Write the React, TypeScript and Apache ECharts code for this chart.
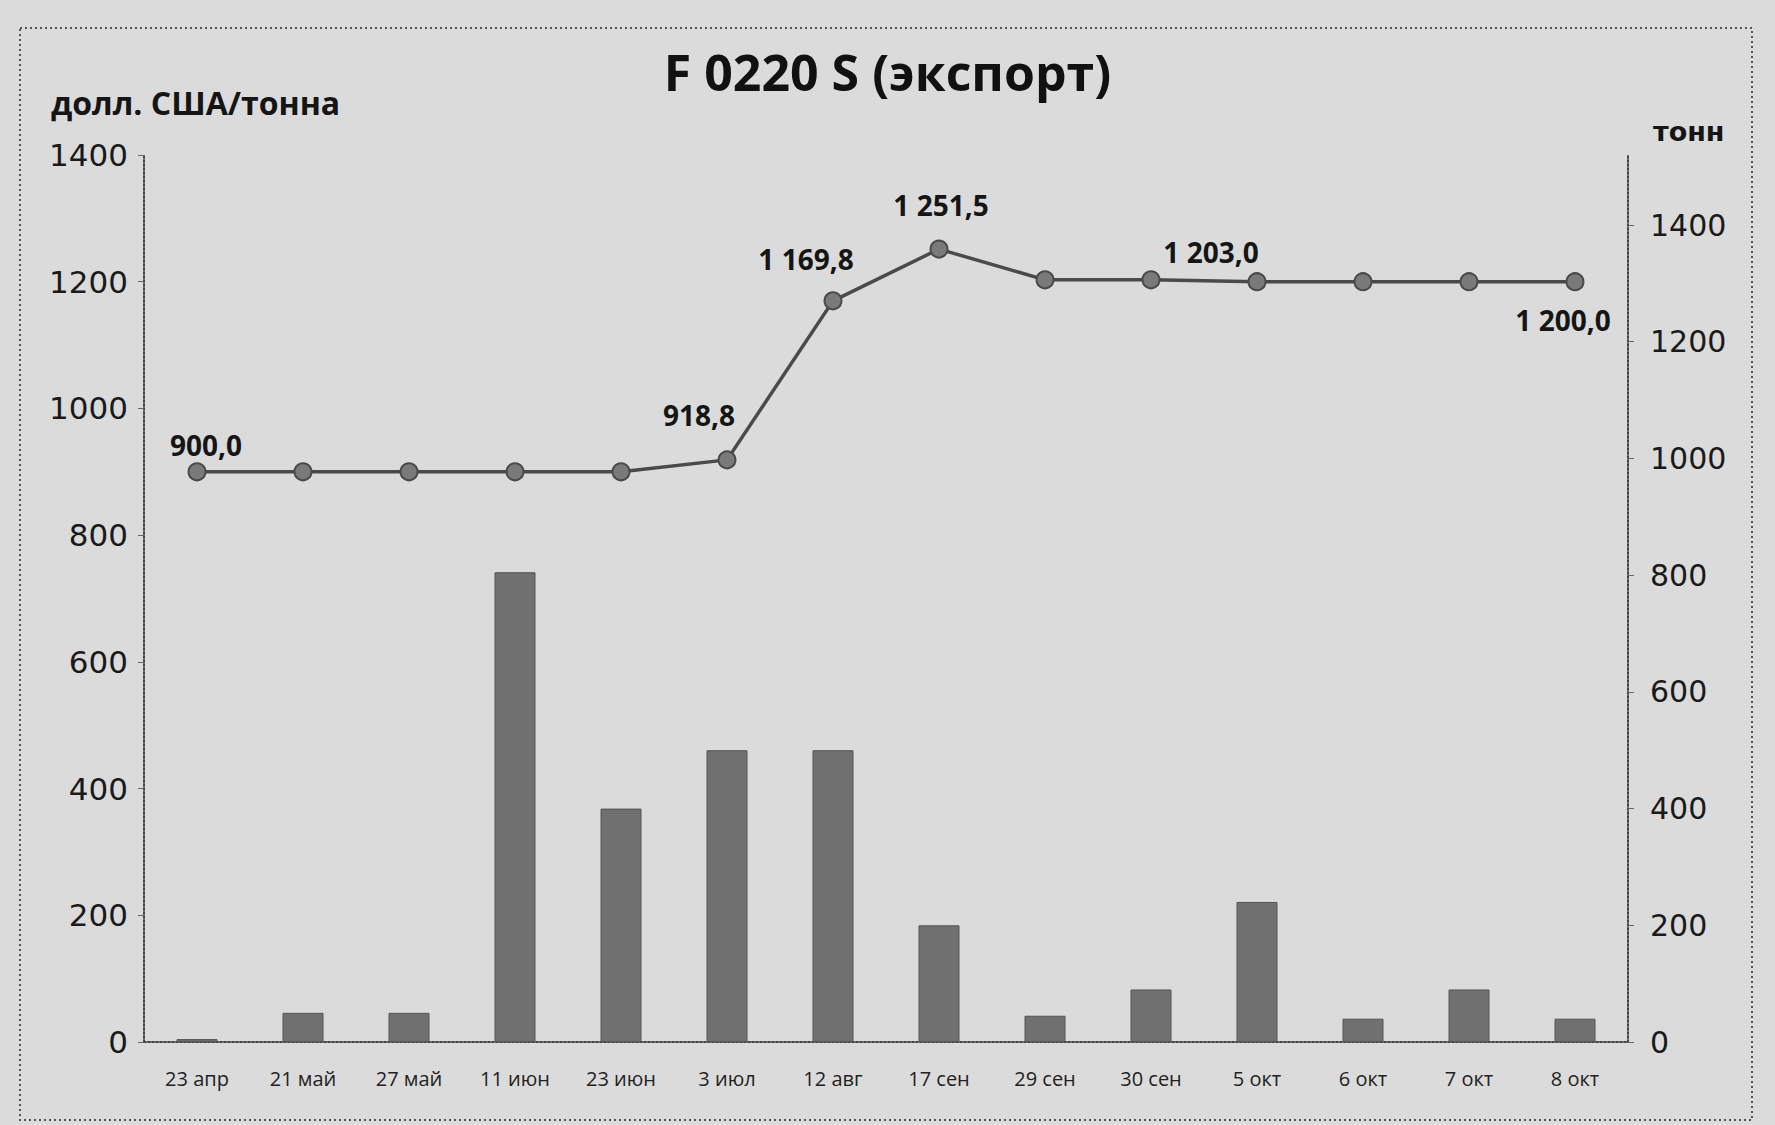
import React, { useEffect, useRef } from "react";
import * as echarts from "echarts";

const categories = ["23 апр", "21 май", "27 май", "11 июн", "23 июн", "3 июл", "12 авг", "17 сен", "29 сен", "30 сен", "5 окт", "6 окт", "7 окт", "8 окт"];
const priceUsdPerTon = [900, 900, 900, 900, 900, 918.8, 1169.8, 1251.5, 1203, 1203, 1200, 1200, 1200, 1200];
const volumeTons = [5, 50, 50, 805, 400, 500, 500, 200, 45, 90, 240, 40, 90, 40];
const leftTicks = [0, 200, 400, 600, 800, 1000, 1200, 1400];
const rightTicks = [0, 200, 400, 600, 800, 1000, 1200, 1400];
const titleText = "F 0220 S (экспорт)";
const leftAxisName = "долл. США/тонна";
const rightAxisName = "тонн";

// label placements (style only)
const labelOffsets: Record<number, [number, number]> = {
  0: [9, -27],
  5: [-28, -45],
  6: [-27, -42],
  7: [2, -44],
  9: [60, -28],
  13: [-12, 38],
};

const fmtRu = (v: number) => {
  const fixed = v.toFixed(1);
  const [int, dec] = fixed.split(".");
  const intS = int.replace(/\B(?=(\d{3})+(?!\d))/g, " ");
  return intS + "," + dec;
};

export default function App() {
  const ref = useRef<HTMLDivElement>(null);
  useEffect(() => {
    if (!ref.current) return;
    const chart = echarts.init(ref.current, undefined, { renderer: "svg" });
    const lineData = priceUsdPerTon.map((v, i) => {
      const off = labelOffsets[i];
      if (!off) return { value: v };
      return {
        value: v,
        label: {
          show: true,
          position: "inside",
          offset: off,
          formatter: () => fmtRu(v),
          fontFamily: "Open Sans",
          fontWeight: "bold",
          fontSize: 28,
          color: "#151515",
        },
      };
    });
    chart.setOption({
      animation: false,
      backgroundColor: "#dbdbdb",
      title: {
        text: titleText,
        left: "center",
        top: 42,
        textStyle: { fontFamily: "Open Sans", fontWeight: "bold", fontSize: 50, color: "#111" },
      },
      graphic: [
        {
          type: "rect",
          shape: { x: 20, y: 28, width: 1732, height: 1092 },
          style: { fill: "none", stroke: "#555", lineWidth: 2, lineDash: [2, 3] },
          silent: true,
        },
        {
          type: "text",
          left: 51,
          top: 86,
          style: { text: leftAxisName, fontFamily: "Open Sans", fontWeight: "bold", fontSize: 32, fill: "#151515" },
        },
        {
          type: "text",
          left: 1653,
          top: 118,
          style: { text: rightAxisName, fontFamily: "DejaVu Sans", fontWeight: "bold", fontSize: 27, fill: "#151515" },
        },
      ],
      grid: { left: 144, right: 147, top: 155, bottom: 83, containLabel: false },
      xAxis: {
        type: "category",
        data: categories,
        boundaryGap: true,
        axisLine: { show: true, lineStyle: { color: "#444", width: 2, type: [2, 2] } },
        axisTick: { show: false },
        axisLabel: { fontFamily: "Open Sans", fontSize: 20, color: "#222", margin: 26, interval: 0 },
      },
      yAxis: [
        {
          type: "value",
          min: 0,
          max: 1400,
          interval: 200,
          position: "left",
          axisLine: { show: true, lineStyle: { color: "#444", width: 2, type: [2, 2] } },
          axisTick: { show: true, length: 6, lineStyle: { color: "#666" } },
          splitLine: { show: false },
          axisLabel: {
            fontFamily: "DejaVu Sans",
            fontSize: 31,
            color: "#1a1a1a",
            margin: 16,
            formatter: (v: number) => (leftTicks.includes(v) ? String(v) : ""),
          },
        },
        {
          type: "value",
          min: 0,
          max: 1520,
          interval: 200,
          position: "right",
          axisLine: { show: true, lineStyle: { color: "#444", width: 2, type: [2, 2] } },
          axisTick: { show: true, length: 6, lineStyle: { color: "#666" } },
          splitLine: { show: false },
          axisLabel: {
            fontFamily: "DejaVu Sans",
            fontSize: 30,
            color: "#1a1a1a",
            margin: 22,
            showMaxLabel: false,
            formatter: (v: number) => (rightTicks.includes(v) ? String(v) : ""),
          },
        },
      ],
      series: [
        {
          type: "bar",
          yAxisIndex: 1,
          data: volumeTons,
          barWidth: 41,
          itemStyle: { color: "#707070", borderColor: "#555", borderWidth: 1 },
          z: 1,
        },
        {
          type: "line",
          yAxisIndex: 0,
          data: lineData,
          symbol: "circle",
          symbolSize: 17,
          lineStyle: { color: "#4a4a4a", width: 3.5 },
          itemStyle: { color: "#7a7a7a", borderColor: "#4a4a4a", borderWidth: 2 },
          label: { show: false },
          z: 3,
        },
      ],
    });
    return () => chart.dispose();
  }, []);
  return <div ref={ref} style={{ position: "absolute", left: 0, top: 0, width: 1775, height: 1125 }} />;
}
